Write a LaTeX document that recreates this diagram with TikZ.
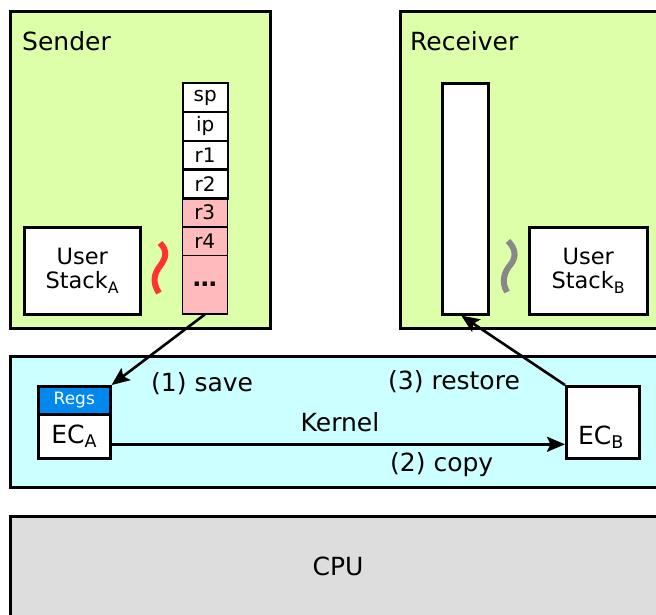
\documentclass[tikz,border=0pt]{standalone}
\usepackage{fontspec}
\setmainfont{DejaVu Sans}
\usetikzlibrary{arrows.meta,calc}
\definecolor{grn}{RGB}{221,255,170}
\definecolor{cyn}{RGB}{204,255,255}
\definecolor{gry}{RGB}{221,221,221}
\definecolor{pnk}{RGB}{255,187,187}
\definecolor{blu}{RGB}{0,136,238}
\definecolor{sqred}{RGB}{255,51,51}
\definecolor{sqgray}{RGB}{136,136,136}
\newcommand{\bigf}{\fontsize{25}{29}\selectfont}
\newcommand{\midf}{\fontsize{22.5}{27}\selectfont}
\newcommand{\regf}{\fontsize{20}{22}\selectfont}
\newcommand{\smf}{\fontsize{17}{19}\selectfont}
\begin{document}
\begin{tikzpicture}[x=1pt,y=-1pt,
  box/.style={draw, line width=2.6pt, inner sep=0pt, anchor=north west},
  regw/.style={draw, line width=2.4pt, fill=white, minimum width=45, minimum height=28.8, inner sep=0pt, anchor=north west, font=\regf},
  regp/.style={draw, line width=1.5pt, fill=pnk, minimum width=45, minimum height=28.8, inner sep=0pt, anchor=north west, font=\regf},
  arr/.style={line width=2.6pt, -{Stealth[length=18pt,width=15pt,inset=3.5pt]}},
  squig/.style={line width=6pt},
  lbl/.style={font=\bigf, inner sep=0pt}
]
\useasboundingbox (0,0) rectangle (656,614);
\clip (0,0) rectangle (656,614);

% big areas
\node[box, fill=grn, minimum width=260, minimum height=317] (sender) at (9,10) {};
\node[box, fill=grn, minimum width=280, minimum height=317] (receiver) at (399,10) {};
\node[box, fill=cyn, minimum width=670, minimum height=131] (kernel) at (9,355) {};
\node[box, fill=gry, minimum width=670, minimum height=120] (cpu) at (9,515) {};

\node[lbl, anchor=base west] (sendert) at (22,50) {Sender};
\node[lbl, anchor=base west] (receivert) at (410,50) {Receiver};
\node[lbl, anchor=base] (kernelt) at (340,431) {Kernel};
\node[lbl] (cput) at (338,566) {CPU};

% user stacks
\node[box, fill=white, minimum width=116, minimum height=87, font=\midf, align=center] (usa) at (23,226) {User\\[-3pt]Stack\textsubscript{A}};
\node[box, fill=white, minimum width=118, minimum height=87, font=\midf, align=center] (usb) at (528,226) {User\\[-3pt]Stack\textsubscript{B}};

% register stack
\node[regp] (r3) at (181.5,197.2) {r3};
\node[regp] (r4) at (181.5,226) {r4};
\node[regp, minimum height=58.2, font=\fontsize{24}{26}\selectfont\bfseries] (rdots) at (181.5,254.8) {…};
\node[regw] (sp) at (181.5,82) {sp};
\node[regw] (ip) at (181.5,110.8) {ip};
\node[regw] (r1) at (181.5,139.6) {r1};
\node[regw] (r2) at (181.5,168.4) {r2};

% receiver register column
\node[box, fill=white, minimum width=46, minimum height=231] (rcol) at (441,82) {};

% squiggles
\draw[squig, sqred] (160,243) .. controls (168,251) and (166,258) .. (160,266)
  .. controls (154,274) and (152,282) .. (159,293);
\draw[squig, sqgray] (508,241) .. controls (515,248) and (517,256) .. (511,264)
  .. controls (504,272) and (501,282) .. (507,292);

% EC boxes
\node[box, fill=blu, minimum width=72, minimum height=28] (regs) at (37,385) {};
\node[text=white, font=\smf, inner sep=0pt] (regst) at (regs.center) {Regs};
\node[box, fill=white, minimum width=72, minimum height=44, font=\bigf] (eca) at (37,413) {EC\textsubscript{A}};
\node[box, fill=white, minimum width=73, minimum height=72] (ecb) at (565,385) {};
\node[lbl] (ecbt) at (601,437) {EC\textsubscript{B}};

% labels
\node[lbl, anchor=base west] (savet) at (151,391) {(1) save};
\node[lbl, anchor=base west] (restoret) at (388,389) {(3) restore};
\node[lbl, anchor=base west] (copyt) at (390,471) {(2) copy};

% arrows
\draw[arr] (rdots.south) -- (regs.north east);
\coordinate (rcolin) at ($(rcol.south)+(-4,0)$);
\draw[arr] (ecb.north west) -- (rcolin);
\draw[arr] ([yshift=-8pt]eca.east) coordinate (c1) -- (c1 -| ecb.west);
\end{tikzpicture}
\end{document}
